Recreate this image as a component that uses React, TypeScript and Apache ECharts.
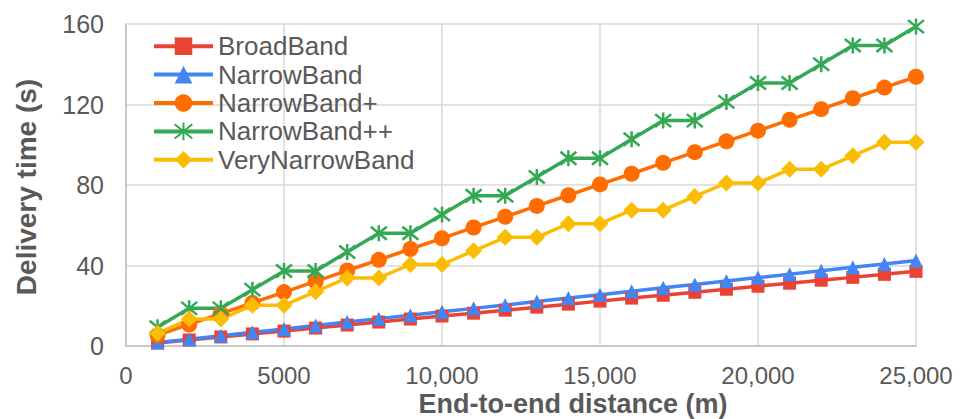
import React, { useEffect, useRef } from "react";
import * as echarts from "echarts";

const distances = [
  1000, 2000, 3000, 4000, 5000, 6000, 7000, 8000, 9000, 10000, 11000, 12000, 13000,
  14000, 15000, 16000, 17000, 18000, 19000, 20000, 21000, 22000, 23000, 24000, 25000,
];
const broadBand = [
  1.5, 3, 4.5, 6, 7.4, 8.9, 10.4, 11.9, 13.4, 14.9, 16.3, 17.8, 19.3, 20.8, 22.3, 23.8,
  25.2, 26.7, 28.2, 29.7, 31.2, 32.7, 34.1, 35.6, 37.1,
];
const narrowBand = [
  1.7, 3.4, 5.1, 6.8, 8.5, 10.2, 11.9, 13.6, 15.3, 17, 18.7, 20.4, 22.1, 23.8, 25.5, 27.2,
  28.9, 30.6, 32.3, 34, 35.7, 37.4, 39.1, 40.8, 42.5,
];
const narrowBandPlus = [
  5.4, 10.7, 16.1, 21.4, 26.8, 32.1, 37.5, 42.8, 48.2, 53.5, 58.9, 64.2, 69.6, 74.9, 80.3,
  85.6, 91, 96.3, 101.7, 107, 112.4, 117.7, 123.1, 128.4, 133.8,
];
const narrowBandPlusPlus = [
  9.3, 18.7, 18.7, 28, 37.3, 37.3, 46.7, 56, 56, 65.3, 74.7, 74.7, 84, 93.3, 93.3, 102.7,
  112, 112, 121.3, 130.7, 130.7, 140, 149.3, 149.3, 158.7,
];
const veryNarrowBand = [
  6.3, 13.4, 13.4, 20.2, 20.2, 27, 33.8, 33.8, 40.5, 40.5, 47.3, 54, 54, 60.8, 60.8, 67.5,
  67.5, 74.3, 81, 81, 87.8, 87.8, 94.5, 101.3, 101.3,
];
const seriesNames = ["BroadBand", "NarrowBand", "NarrowBand+", "NarrowBand++", "VeryNarrowBand"];
const xTickLabels = ["0", "5000", "10,000", "15,000", "20,000", "25,000"];
const xTitle = "End-to-end distance (m)";
const yTitle = "Delivery time (s)";

const FONT = "Arial, 'Liberation Sans', sans-serif";
const TEXT = "#595959";
const RED = "#EA4335";
const BLUE = "#4285F4";
const ORANGE = "#FF6D01";
const GREEN = "#34A853";
const YELLOW = "#FBBC04";
const ASTERISK = "path://M8,0 L8,16 M1.5,1.5 L14.5,14.5 M14.5,1.5 L1.5,14.5";

function lineSeries(name: string, values: number[], color: string, symbol: string, symbolSize: number, itemStyle?: any) {
  return {
    type: "line",
    name,
    data: distances.map((d, i) => [d, values[i]]),
    symbol,
    symbolSize,
    showAllSymbol: true,
    lineStyle: { color, width: 3.5 },
    itemStyle: itemStyle || { color },
    emphasis: { disabled: true },
  };
}

export default function App() {
  const ref = useRef<HTMLDivElement>(null);
  useEffect(() => {
    document.body.style.margin = "0";
    const chart = echarts.init(ref.current!, null, { renderer: "svg" });
    chart.setOption({
      animation: false,
      backgroundColor: "#ffffff",
      grid: { left: 126, right: 47, top: 24, bottom: 73 },
      legend: {
        data: seriesNames,
        orient: "vertical",
        left: 147,
        top: 27,
        padding: 5,
        itemWidth: 59,
        itemHeight: 22,
        itemGap: 0,
        lineStyle: { width: 4 },
        textStyle: { fontSize: 26, color: TEXT, fontFamily: FONT, lineHeight: 28.4 },
      },
      xAxis: {
        type: "value",
        min: 0,
        max: 25000,
        interval: 5000,
        axisLine: { show: true, lineStyle: { color: "#BFBFBF", width: 1.5 } },
        axisTick: { show: false },
        splitLine: { show: true, lineStyle: { color: "#D9D9D9", width: 1.5 } },
        axisLabel: {
          margin: 19,
          fontSize: 24,
          lineHeight: 21,
          color: TEXT,
          fontFamily: FONT,
          formatter: (v: number) => xTickLabels[Math.round(v / 5000)] ?? String(v),
        },
      },
      yAxis: {
        type: "value",
        min: 0,
        max: 160,
        interval: 40,
        axisLine: { show: true, lineStyle: { color: "#BFBFBF", width: 1.5 } },
        axisTick: { show: false },
        splitLine: { show: true, lineStyle: { color: "#D9D9D9", width: 1.5 } },
        axisLabel: { margin: 22, fontSize: 25, color: TEXT, fontFamily: FONT },
      },
      graphic: [
        {
          type: "text",
          x: 573,
          y: 403.5,
          style: {
            text: xTitle,
            font: `bold 27px ${FONT}`,
            lineHeight: 22,
            fill: TEXT,
            textAlign: "center",
            textVerticalAlign: "middle",
          },
        },
        {
          type: "text",
          x: 26,
          y: 187,
          rotation: Math.PI / 2,
          style: {
            text: yTitle,
            font: `bold 28px ${FONT}`,
            fill: TEXT,
            textAlign: "center",
            textVerticalAlign: "middle",
          },
        },
      ],
      series: [
        lineSeries(seriesNames[0], broadBand, RED, "rect", 13),
        lineSeries(seriesNames[1], narrowBand, BLUE, "triangle", 14),
        lineSeries(seriesNames[2], narrowBandPlus, ORANGE, "circle", 16),
        lineSeries(seriesNames[3], narrowBandPlusPlus, GREEN, ASTERISK, 16, {
          color: GREEN,
          borderColor: GREEN,
          borderWidth: 2.5,
        }),
        lineSeries(seriesNames[4], veryNarrowBand, YELLOW, "diamond", 17),
      ],
    });
    return () => chart.dispose();
  }, []);
  return <div ref={ref} style={{ position: "absolute", left: 0, top: 0, width: 963, height: 419 }} />;
}
